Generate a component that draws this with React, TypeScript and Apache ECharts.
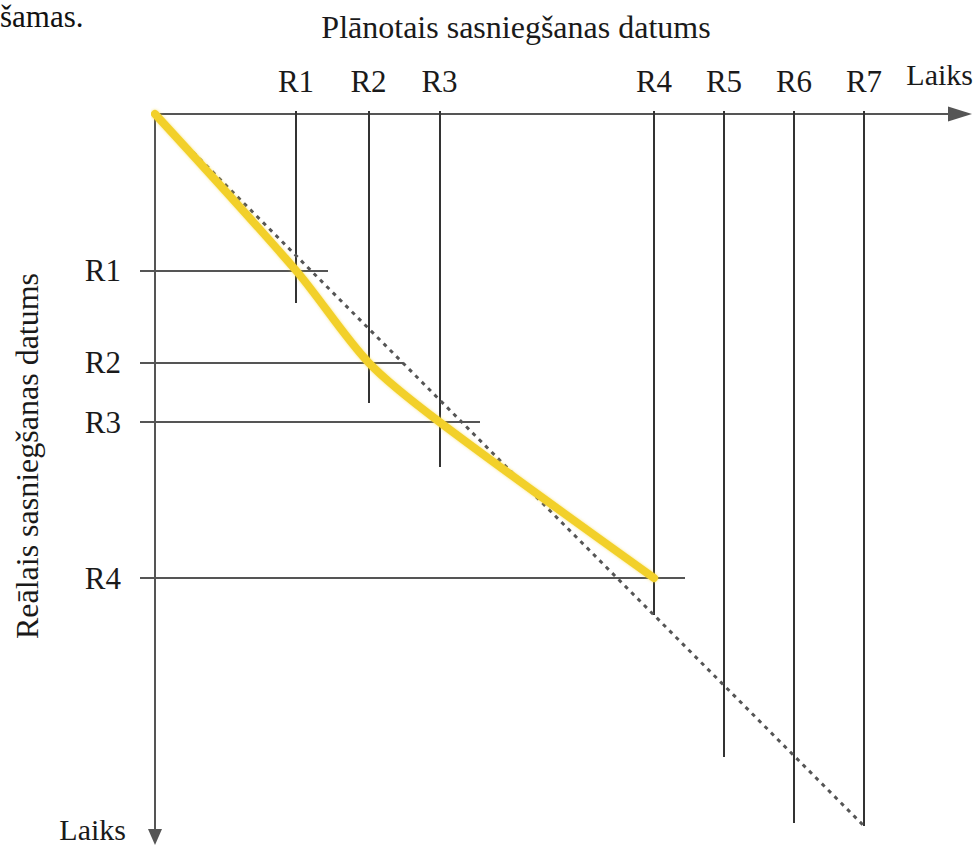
import React, { useEffect, useRef } from "react";
import * as echarts from "echarts";

// Planned milestones (top axis) — planned date in time units
const milestones = ["R1", "R2", "R3", "R4", "R5", "R6", "R7"];
const plannedDates = [14.1, 21.35, 28.45, 49.9, 56.9, 63.9, 70.9];
// how far down each planned-date line reaches (actual time units)
const plannedLineEnds = [18.9, 28.9, 35.3, 50.1, 64.3, 70.9, 71.2];

// Reached milestones (left axis) — actual date in time units
const reachedMilestones = ["R1", "R2", "R3", "R4"];
const actualDates = [15.65, 24.85, 30.8, 46.4];
// how far right each actual-date line reaches (planned time units)
const actualLineEnds = [17.3, 24.8, 32.5, 53.0];

// plan diagonal (actual == planned)
const diagonalEnd = [70.9, 71.2];

const xTimeMax = 82;
const yTimeMax = 73;
const lineStartX = -1.5;
const lineStartY = -0.3;

const FONT = "Liberation Serif";

function nearestName(names: string[], values: number[], v: number) {
  let best = 0;
  let bd = Infinity;
  values.forEach((x, i) => {
    const d = Math.abs(x - v);
    if (d < bd) {
      bd = d;
      best = i;
    }
  });
  return names[best];
}

export default function App() {
  const ref = useRef<HTMLDivElement>(null);

  useEffect(() => {
    if (!ref.current) return;
    const chart = echarts.init(ref.current, null, { renderer: "svg" });

    const trendData: number[][] = [[0, 0]];
    actualDates.forEach((y, i) => trendData.push([plannedDates[i], y]));

    const textStyle = (size: number) => ({
      fontFamily: FONT,
      fontSize: size,
      fill: "#1a1a1a",
    });

    const option: any = {
      animation: false,
      backgroundColor: "#ffffff",
      textStyle: { fontFamily: FONT },
      grid: { left: 155, top: 114, width: 820, height: 730 },
      xAxis: {
        type: "value",
        position: "top",
        min: 0,
        max: xTimeMax,
        axisLine: { show: false },
        axisTick: { show: false },
        splitLine: { show: false },
        axisLabel: {
          customValues: plannedDates,
          formatter: (v: number) => nearestName(milestones, plannedDates, v),
          fontFamily: FONT,
          fontSize: 31,
          color: "#1a1a1a",
          margin: 17,
        },
      },
      yAxis: {
        type: "value",
        inverse: true,
        min: 0,
        max: yTimeMax,
        axisLine: { show: false },
        axisTick: { show: false },
        splitLine: { show: false },
        axisLabel: {
          customValues: actualDates,
          formatter: (v: number) => nearestName(reachedMilestones, actualDates, v),
          fontFamily: FONT,
          fontSize: 31,
          color: "#1a1a1a",
          margin: 34,
        },
      },
      graphic: [
        {
          type: "text",
          x: 0,
          y: 16,
          style: {
            ...textStyle(31),
            text: "šamas.",
            fill: "#111",
            verticalAlign: "middle",
            align: "left",
          },
        },
        {
          type: "text",
          x: 516,
          y: 27,
          style: {
            ...textStyle(32),
            text: "Plānotais sasniegšanas datums",
            align: "center",
            verticalAlign: "middle",
          },
        },
        {
          type: "text",
          x: 973,
          y: 74,
          style: {
            ...textStyle(30),
            text: "Laiks",
            align: "right",
            verticalAlign: "middle",
          },
        },
        {
          type: "text",
          x: 126,
          y: 829,
          style: {
            ...textStyle(30),
            text: "Laiks",
            align: "right",
            verticalAlign: "middle",
          },
        },
        {
          type: "text",
          x: 27,
          y: 456,
          rotation: Math.PI / 2,
          style: {
            ...textStyle(32),
            text: "Reālais sasniegšanas datums",
            align: "center",
            verticalAlign: "middle",
          },
        },
      ],
      series: [
        {
          name: "planned axis",
          type: "lines",
          coordinateSystem: "cartesian2d",
          clip: false,
          silent: true,
          symbol: ["none", "triangle"],
          symbolSize: [1, [15, 24]],
          lineStyle: { color: "#555", width: 2, opacity: 1 },
          data: [{ coords: [[0, 0], [80.5, 0]] }],
          z: 3,
        },
        {
          name: "actual axis",
          type: "lines",
          coordinateSystem: "cartesian2d",
          clip: false,
          silent: true,
          symbol: ["none", "triangle"],
          symbolSize: [1, [14, 16]],
          lineStyle: { color: "#555", width: 2, opacity: 1 },
          data: [{ coords: [[0, 0], [0, 72.3]] }],
          z: 3,
        },
        {
          name: "planned dates",
          type: "lines",
          coordinateSystem: "cartesian2d",
          clip: false,
          silent: true,
          lineStyle: { color: "#333", width: 2, opacity: 1 },
          data: plannedDates.map((x, i) => ({
            coords: [
              [x, lineStartY],
              [x, plannedLineEnds[i]],
            ],
          })),
          z: 3,
        },
        {
          name: "actual dates",
          type: "lines",
          coordinateSystem: "cartesian2d",
          clip: false,
          silent: true,
          lineStyle: { color: "#555", width: 2, opacity: 1 },
          data: actualDates.map((y, i) => ({
            coords: [
              [lineStartX, y],
              [actualLineEnds[i], y],
            ],
          })),
          z: 3,
        },
        {
          name: "plan diagonal",
          type: "lines",
          coordinateSystem: "cartesian2d",
          clip: false,
          silent: true,
          lineStyle: { color: "#555", width: 3, type: [4, 5], opacity: 1 },
          data: [{ coords: [[0, 0], diagonalEnd] }],
          z: 4,
        },
        {
          name: "trend",
          type: "line",
          data: trendData,
          smooth: 0.3,
          showSymbol: false,
          symbol: "none",
          clip: false,
          silent: true,
          lineStyle: {
            color: "#F2D02C",
            width: 8,
            cap: "round",
            join: "round",
            shadowBlur: 3,
            shadowColor: "rgba(242,208,44,0.6)",
          },
          z: 5,
        },
      ],
    };

    chart.setOption(option);
    return () => chart.dispose();
  }, []);

  return (
    <div
      ref={ref}
      style={{
        position: "fixed",
        left: 0,
        top: 0,
        width: 980,
        height: 845,
        background: "#fff",
      }}
    />
  );
}
